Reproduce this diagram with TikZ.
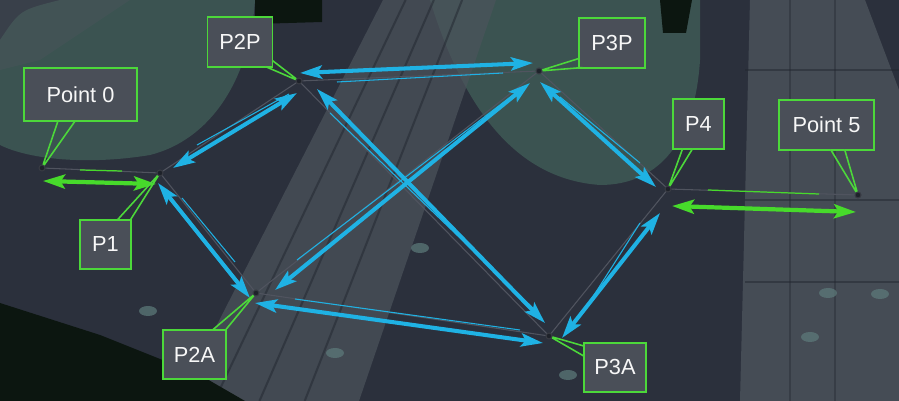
\documentclass[tikz,border=0pt]{standalone}
\usepackage{fontspec}
\setmainfont{Liberation Sans}
\usepackage{tikz}
\usetikzlibrary{arrows.meta, calc}
\definecolor{colorBg}{HTML}{2B303C}
\definecolor{colorTeal}{HTML}{3B5351}
\definecolor{colorFloor}{HTML}{4C545C}
\definecolor{colorShadow}{HTML}{0C1610}
\definecolor{colorLamp}{HTML}{5E7C7C}
\definecolor{colorTagFill}{HTML}{4A4F58}
\definecolor{colorTagLine}{HTML}{4CD83A}
\definecolor{colorLink}{HTML}{1FB2E4}
\definecolor{colorEnd}{HTML}{47DA2B}
\definecolor{colorTrack}{HTML}{50545F}
\tikzset{
  wayPoint/.style={circle, draw=colorTrack!70!black, fill=colorBg!70!black, line width=0.6pt, minimum size=3.4pt, inner sep=0pt},
  tagBox/.style={rectangle, draw=colorTagLine, fill=colorTagFill, line width=1.1pt, minimum height=28pt, inner xsep=6pt, text=white!94!gray, font=\fontsize{12.4}{14}\selectfont},
  tagTip/.style={draw=colorTagLine, fill=colorTagFill, line width=0.9pt, line join=miter},
  linkArrow/.style={colorLink, line width=2.3pt, >={Stealth[length=12.5pt,width=7.5pt,inset=2.5pt]}, <->},
  endArrow/.style={colorEnd, line width=2.4pt, >={Stealth[length=12.5pt,width=8pt,inset=2.5pt]}, <->},
  linkTrace/.style={colorLink, line width=0.6pt},
  endTrace/.style={colorEnd, line width=0.7pt},
  navTrack/.style={colorTrack, line width=0.6pt},
}

\begin{document}
\begin{tikzpicture}[x=0.02cm, y=-0.02cm]
\useasboundingbox (0,0) rectangle (899,401);
% scene
\begin{scope}
\clip (0,0) rectangle (899,401);
\fill[colorBg] (0,0) rectangle (899,401);
\fill[colorTeal] (0,40) .. controls (20,10) .. (60,0) -- (255,0) .. controls (250,80) and (210,140) .. (150,155) .. controls (90,165) and (30,160) .. (0,145) -- cycle;
\fill[colorTeal] (430,0) -- (700,0) -- (700,60) .. controls (695,140) and (660,185) .. (600,185) .. controls (530,180) and (470,130) .. (430,0) -- cycle;
\fill[colorFloor, opacity=0.45] (0,0) -- (130,0) -- (40,60) -- (0,70) -- cycle;
\fill[colorFloor, opacity=0.7] (383,0) -- (496,0) -- (359,401) -- (178,401) -- cycle;
\foreach \s in {0.2, 0.45, 0.7}
  \draw[colorBg!80!black, line width=1.2pt, opacity=0.5] ($(383,0)!\s!(496,0)$) -- ($(178,401)!\s!(359,401)$);
\fill[colorFloor, opacity=0.8] (750,0) -- (865,0) -- (899,90) -- (899,401) -- (740,401) -- cycle;
\foreach \y in {70, 200, 282}
  \draw[colorBg!80!black, line width=1.5pt, opacity=0.5] (745,\y) -- (899,\y);
\foreach \x in {790, 835}
  \draw[colorBg!80!black, line width=1.2pt, opacity=0.4] (\x,0) -- (\x,401);
\fill[colorShadow] (255,0) -- (322,0) -- (322,22) -- (255,24) -- cycle;
\fill[colorShadow] (660,0) -- (692,0) -- (686,33) -- (663,33) -- cycle;
\fill[colorShadow] (0,303) -- (100,335) -- (200,375) -- (245,401) -- (0,401) -- cycle;
\foreach \lx/\ly in {828/293, 880/294, 810/337, 148/311, 335/353, 420/248, 568/375}
  \fill[colorLamp, opacity=0.7] (\lx,\ly) ellipse (9 and 5);
\end{scope}
% way points
\node[wayPoint] (pt0) at (42,168) {};
\node[wayPoint] (p1) at (160,173) {};
\node[wayPoint] (p2p) at (299,81) {};
\node[wayPoint] (p3p) at (539,71) {};
\node[wayPoint] (p4) at (668,189) {};
\node[wayPoint] (pt5) at (858,195) {};
\node[wayPoint] (p2a) at (256,293) {};
\node[wayPoint] (p3a) at (549,336) {};
\draw[navTrack] (pt0) -- (p1) -- (p2p) -- (p3p) -- (p4) -- (pt5);
\draw[navTrack] (p1) -- (p2a) -- (p3a) -- (p4);
\draw[navTrack] (p2p) -- (p3a);
\draw[navTrack] (p2a) -- (p3p);
% thin traces
\draw[endTrace] ($(pt0)+(38,2)$) -- ($(p1)+(-38,-2)$);
\draw[endTrace] ($(p4)+(40,1)$) -- ($(pt5)+(-39,-1)$);
\draw[linkTrace] ($(p1)+(37,-28)$) -- ($(p2p)+(-10,13)$);
\draw[linkTrace] ($(p1)+(22,25)$) -- ($(p2a)+(-21,-31)$);
\draw[linkTrace] ($(p2p)+(38,1)$) -- ($(p3p)+(-36,2)$);
\draw[linkTrace] ($(p2p)+(31,32)$) -- ($(p3a)+(-14,-26)$);
\draw[linkTrace] ($(p2a)+(41,-33)$) -- ($(p3p)+(-22,21)$);
\draw[linkTrace] ($(p3p)+(21,26)$) -- ($(p4)+(-28,-26)$);
\draw[linkTrace] ($(p4)+(-28,34)$) -- ($(p3a)+(31,-19)$);
\draw[linkTrace] ($(p2a)+(39,6)$) -- ($(p3a)+(-29,-6)$);
% links
\draw[endArrow] ($(pt0)+(1,13)$) -- ($(p1)+(-4,11)$);
\draw[endArrow] ($(p4)+(4,17)$) -- ($(pt5)+(-2,17)$);
\draw[linkArrow] ($(p1)+(13,-5)$) -- ($(p2p)+(-2,12)$);
\draw[linkArrow] ($(p1)+(-2,10)$) -- ($(p2a)+(-6,5)$);
\draw[linkArrow] ($(p2p)+(1,-8)$) -- ($(p3p)+(-6,-8)$);
\draw[linkArrow] ($(p2p)+(18,8)$) -- ($(p3a)+(-4,-13)$);
\draw[linkArrow] ($(p2a)+(19,-3)$) -- ($(p3p)+(-9,12)$);
\draw[linkArrow] ($(p3p)+(1,11)$) -- ($(p4)+(-12,-2)$);
\draw[linkArrow] ($(p4)+(-8,24)$) -- ($(p3a)+(13,2)$);
\draw[linkArrow] ($(p2a)+(-1,10)$) -- ($(p3a)+(-6,7)$);
% tags
\node[tagBox, minimum width=64.5pt, minimum height=30.6pt] (tagPt0) at (80.5,94.5) {Point 0};
\node[tagBox, minimum width=29.5pt] (tagP1) at (105.5,244.5) {P1};
\node[tagBox, minimum width=37pt] (tagP2P) at (240,42) {P2P};
\node[tagBox, minimum width=38pt] (tagP3P) at (612,43) {P3P};
\node[tagBox, minimum width=29.5pt] (tagP4) at (698.5,124) {P4};
\node[tagBox, minimum width=54.5pt] (tagPt5) at (826.5,125) {Point 5};
\node[tagBox, minimum width=35.3pt] (tagP2A) at (194.5,354.5) {P2A};
\node[tagBox, minimum width=35.8pt] (tagP3A) at (615,367.5) {P3A};
\filldraw[tagTip] ($(tagPt0.south west)+(35,-1)$) -- (pt0) -- ($(tagPt0.south west)+(52,-1)$);
\filldraw[tagTip] ($(tagP1.north east)+(-15,1)$) -- (p1) -- ($(tagP1.north east)+(-2,1)$);
\filldraw[tagTip] ($(tagP2P.south east)+(-8,-1)$) -- (p2p) -- ($(tagP2P.south east)+(-1,-7)$);
\filldraw[tagTip] ($(tagP3P.south west)+(1,-10)$) -- (p3p) -- ($(tagP3P.south west)+(5,-1)$);
\filldraw[tagTip] ($(tagP4.south west)+(11,-1)$) -- (p4) -- ($(tagP4.south west)+(21,-1)$);
\filldraw[tagTip] ($(tagPt5.south west)+(53,-1)$) -- (pt5) -- ($(tagPt5.south west)+(67,-1)$);
\filldraw[tagTip] ($(tagP2A.north east)+(-14,1)$) -- (p2a) -- ($(tagP2A.north east)+(-1,1)$);
\filldraw[tagTip] ($(tagP3A.north west)+(1,4)$) -- (p3a) -- ($(tagP3A.north west)+(1,14)$);
\end{tikzpicture}
\end{document}
